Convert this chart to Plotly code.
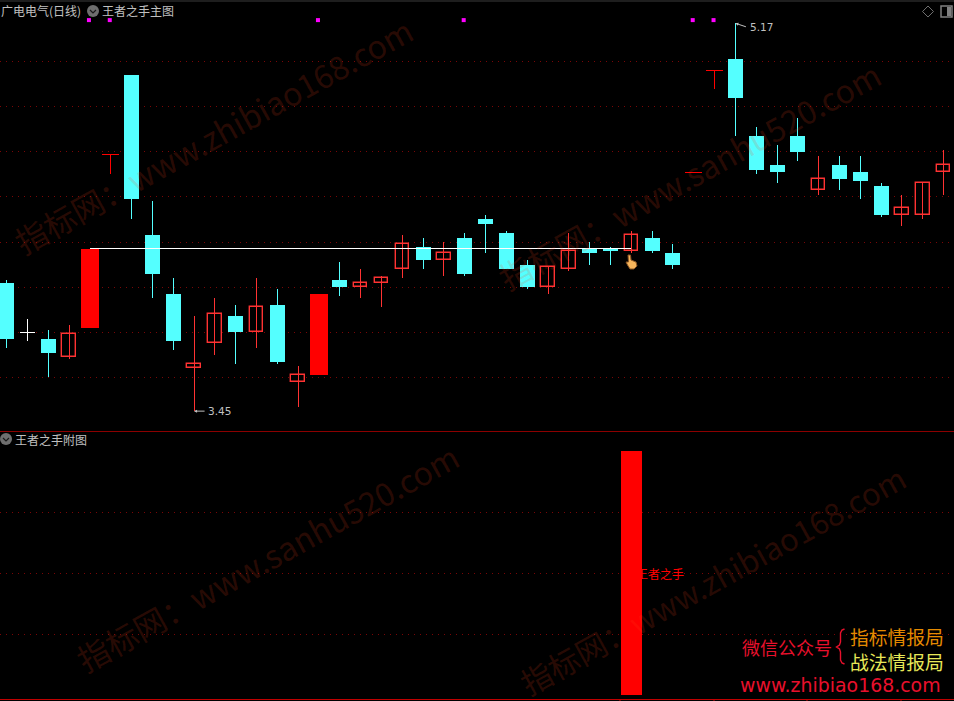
import plotly.graph_objects as go

W, H = 954, 701

opens = [4.02, 3.80, 3.77, 3.69, 3.82, 4.59, 4.94, 4.23, 3.97, 3.64, 3.75, 3.87, 3.80, 3.92, 3.58, 3.61,
         4.03, 4.00, 4.02, 4.08, 4.18, 4.12, 4.22, 4.30, 4.24, 4.10, 4.00, 4.08, 4.17, 4.17, 4.16, 4.22,
         4.15, 4.51, 4.96, 5.01, 4.67, 4.54, 4.67, 4.43, 4.54, 4.51, 4.45, 4.32, 4.32, 4.51]
closes = [3.77, 3.80, 3.71, 3.79, 4.17, 4.59, 4.39, 4.06, 3.76, 3.66, 3.88, 3.80, 3.91, 3.67, 3.61, 3.97,
          4.00, 4.02, 4.04, 4.19, 4.12, 4.15, 4.06, 4.28, 4.08, 4.00, 4.09, 4.16, 4.15, 4.16, 4.23, 4.16,
          4.10, 4.51, 4.96, 4.84, 4.52, 4.51, 4.60, 4.48, 4.48, 4.47, 4.32, 4.35, 4.46, 4.54]
highs = [4.03, 3.86, 3.81, 3.83, 4.17, 4.59, 4.94, 4.38, 4.04, 3.87, 3.95, 3.92, 4.04, 3.99, 3.65, 3.97,
         4.11, 4.08, 4.05, 4.23, 4.22, 4.20, 4.24, 4.32, 4.25, 4.12, 4.09, 4.24, 4.20, 4.18, 4.25, 4.25,
         4.19, 4.51, 4.96, 5.17, 4.71, 4.63, 4.75, 4.58, 4.58, 4.58, 4.46, 4.41, 4.46, 4.61]
lows = [3.73, 3.76, 3.60, 3.68, 3.82, 4.50, 4.30, 3.95, 3.72, 3.45, 3.70, 3.66, 3.73, 3.66, 3.47, 3.61,
        3.96, 3.95, 3.91, 4.04, 4.08, 4.05, 4.05, 4.15, 4.08, 3.99, 3.97, 4.07, 4.10, 4.10, 4.15, 4.15,
        4.08, 4.51, 4.88, 4.67, 4.50, 4.46, 4.56, 4.41, 4.43, 4.39, 4.31, 4.27, 4.30, 4.41]
solid_idx = [4, 15]
white_idx = [1]
signal_idx = [4, 5, 15, 22, 33, 34]
signal_level = 5.184
ref_level = 4.172
ref_span = [4, 30]
low_label = (9, 3.45, "3.45")
high_label = (35, 5.17, "5.17")
main_ticks = [3.6, 3.8, 4.0, 4.2, 4.4, 4.6, 4.8, 5.0]
sub_values = [0] * 46
sub_values[30] = 1
sub_ticks = [0.25, 0.5, 0.75]

CYAN = "#54ffff"
RED = "#ff3232"
SOLID = "#ff0000"
n = len(opens)
xs = list(range(n))
xr = [-6.7 / 20.82, (W - 6.7) / 20.82]
yr1 = [3.3619, 5.2732]
yr2 = [-0.0164, 1.0779]


def wick(idx):
    xv, yv = [], []
    for i in idx:
        xv += [i, i, None]
        yv += [lows[i], highs[i], None]
    return xv, yv


def px(x):
    return x / W


def py(y):
    return 1 - y / H


down = [i for i in xs if closes[i] < opens[i]]
up = [i for i in xs if closes[i] > opens[i] and i not in solid_idx]
flat = [i for i in xs if closes[i] == opens[i] and i not in white_idx]

fig = go.Figure()
for idx, col in ((down, CYAN), (up, RED), (flat, SOLID), (white_idx, "#ffffff")):
    xv, yv = wick(idx)
    fig.add_trace(go.Scatter(x=xv, y=yv, mode="lines", line=dict(color=col, width=1), hoverinfo="skip"))


def bars(idx, fill, line, lw, width):
    fig.add_trace(go.Bar(x=idx, y=[abs(closes[i] - opens[i]) for i in idx],
                         base=[min(opens[i], closes[i]) for i in idx], width=width,
                         marker=dict(color=fill, line=dict(color=line, width=lw)), hoverinfo="skip"))


bars(down, CYAN, CYAN, 0, 0.72)
bars(up, "#000000", RED, 1.4, 0.65)
bars(solid_idx, SOLID, SOLID, 0, 0.82)

# flat (open == close) caps
for idx, col, hw in ((flat, SOLID, 0.41), (white_idx, "#ffffff", 0.34)):
    xv, yv = [], []
    for i in idx:
        xv += [i - hw, i + hw, None]
        yv += [closes[i], closes[i], None]
    fig.add_trace(go.Scatter(x=xv, y=yv, mode="lines", line=dict(color=col, width=1), hoverinfo="skip"))

fig.add_trace(go.Scatter(x=ref_span, y=[ref_level, ref_level], mode="lines",
                         line=dict(color="#ffffff", width=1), hoverinfo="skip"))
fig.add_trace(go.Scatter(x=[i - 0.05 for i in signal_idx], y=[signal_level] * len(signal_idx), mode="markers",
                         marker=dict(symbol="square", size=4, color="#ff00ff", line=dict(width=0)),
                         hoverinfo="skip"))
fig.add_trace(go.Bar(x=xs, y=sub_values, width=1.0, xaxis="x2", yaxis="y2",
                     marker=dict(color=SOLID, line=dict(width=0)), hoverinfo="skip"))

CJK = "Noto Sans CJK SC"
GRAY = "#c0c0c0"
WM = "rgba(255,70,30,0.165)"
ann = []


def label(x, y, text, size, color, anchor="left", family=CJK):
    ann.append(dict(x=px(x), y=py(y), xref="paper", yref="paper", text=text, showarrow=False,
                    xanchor=anchor, yanchor="middle", font=dict(family=family, size=size, color=color)))


label(-1, 11, "广电电气(日线)", 12, GRAY)
label(100, 11, "王者之手主图", 12, GRAY)
label(13, 439, "王者之手附图", 12, GRAY)

for cx, cy, text, size in ((213, 135, "指标网：www.zhibiao168.com", 32), (689, 175, "指标网：www.sanhu520.com", 32),
                           (267, 557, "指标网：www.sanhu520.com", 32), (712, 579, "指标网：www.zhibiao168.com", 31)):
    ann.append(dict(x=px(cx), y=py(cy), xref="paper", yref="paper", text=text, showarrow=False, textangle=-29,
                    xanchor="center", yanchor="middle", font=dict(family=CJK, size=size, color=WM)))

label(740, 647, "微信公众号", 18, "#e8102c")
label(848, 636, "指标情报局", 18.8, "#e58a00")
label(848, 661, "战法情报局", 18.8, "#e8e858")
label(738, 685, "www.zhibiao168.com", 18.9, "#e8102c", family="DejaVu Sans")

# price extreme labels
i, v, t = low_label
ann.append(dict(x=i, y=v, xref="x", yref="y", text="", showarrow=True, ax=12, ay=0, arrowhead=2, arrowsize=0.6,
                arrowwidth=1, arrowcolor=GRAY, axref="pixel", ayref="pixel", standoff=0))
ann.append(dict(x=i, y=v, xref="x", yref="y", text=t, showarrow=False, xanchor="left", yanchor="middle", xshift=12,
                font=dict(family="DejaVu Sans", size=10.5, color=GRAY)))
i, v, t = high_label
ann.append(dict(x=i, y=v, xref="x", yref="y", text="", showarrow=True, ax=12, ay=4, arrowhead=2, arrowsize=0.6,
                arrowwidth=1, arrowcolor=GRAY, axref="pixel", ayref="pixel", standoff=0))
ann.append(dict(x=i, y=v, xref="x", yref="y", text=t, showarrow=False, xanchor="left", yanchor="middle", xshift=13,
                yshift=-4, font=dict(family="DejaVu Sans", size=10.5, color=GRAY)))
# sub pane label
ann.append(dict(x=30, y=0.5, xref="x2", yref="y2", text="王者之手", showarrow=False, xanchor="left", yanchor="middle",
                xshift=3, font=dict(family=CJK, size=12, color="#ff0000")))


def pth(points, close=True):
    s = "M" + " L".join(f"{px(a):.5f},{py(b):.5f}" for a, b in points)
    return s + (" Z" if close else "")


shapes = []


def paper(**k):
    k.update(xref="paper", yref="paper")
    shapes.append(k)


# frame lines
paper(type="line", x0=0, x1=1, y0=py(1), y1=py(1), line=dict(color="#3c3c3c", width=1))
paper(type="line", x0=0, x1=1, y0=py(431.5), y1=py(431.5), line=dict(color="#8c0000", width=1))
paper(type="line", x0=0, x1=1, y0=py(699.5), y1=py(699.5), line=dict(color="#c00000", width=1))
for tx in (620, 714, 807, 901):
    paper(type="line", x0=px(tx), x1=px(tx), y0=py(699), y1=py(701), line=dict(color="#c00000", width=1))
# collapse icons
for cx, cy in ((93, 11), (6, 439)):
    paper(type="circle", x0=px(cx - 6), x1=px(cx + 6), y0=py(cy + 6), y1=py(cy - 6),
          fillcolor="#6e6e6e", line=dict(width=0))
    paper(type="path", path=pth([(cx - 3, cy - 1), (cx, cy + 2), (cx + 3, cy - 1)], close=False),
          line=dict(color="#1a1a1a", width=1.2))
# top-right icons
paper(type="path", path=pth([(928, 6), (933.5, 11.5), (928, 17), (922.5, 11.5)]), line=dict(color="#707070", width=1))
paper(type="rect", x0=px(941), x1=px(952), y0=py(17), y1=py(6), line=dict(color="#808080", width=1.5))
paper(type="rect", x0=px(947), x1=px(951), y0=py(16), y1=py(7), fillcolor="#808080", line=dict(width=0))
# brace
paper(type="path", path=pth([(844.5, 629), (842, 630), (840.5, 633), (840.5, 642), (839.5, 645), (836.5, 647),
                             (839.5, 649), (840.5, 652), (840.5, 660), (842, 663), (844.5, 664)], close=False),
      line=dict(color="#e8102c", width=1.4))
# hand cursor
paper(type="path", path=pth([(628, 255), (630.5, 255), (631, 260), (636, 262), (637, 266), (634, 269), (630, 269),
                             (627.5, 265), (626, 262), (628.5, 262)]),
      fillcolor="#f7b55c", line=dict(color="#8a5524", width=1), layer="above")

fig.update_layout(
    width=W, height=H, margin=dict(l=0, r=0, t=0, b=0), autosize=False,
    paper_bgcolor="#000000", plot_bgcolor="#000000", showlegend=False, barmode="overlay", bargap=0,
    annotations=ann, shapes=shapes, hovermode=False,
    xaxis=dict(range=xr, domain=[0, 1], anchor="y", showgrid=False, zeroline=False, showticklabels=False, ticks=""),
    xaxis2=dict(range=xr, domain=[0, 1], anchor="y2", showgrid=False, zeroline=False, showticklabels=False, ticks=""),
    yaxis=dict(range=yr1, domain=[py(431), 1], tickvals=main_ticks, showticklabels=False, ticks="", zeroline=False,
               showgrid=True, gridcolor="#7a0606", griddash="1px,5px", gridwidth=1),
    yaxis2=dict(range=yr2, domain=[py(699), py(432)], tickvals=sub_ticks, showticklabels=False, ticks="", zeroline=False,
                showgrid=True, gridcolor="#7a0606", griddash="1px,5px", gridwidth=1),
)
page_css = ("document.documentElement.style.background='#000';"
            "document.body.style.margin='0';document.body.style.background='#000';"
            "document.body.style.overflow='hidden';"
            "var s=document.createElement('style');"
            "s.textContent='.scatterlayer .js-line{shape-rendering:crispEdges}';"
            "document.head.appendChild(s);")
fig.write_html("out.html", config=dict(displayModeBar=False), post_script=page_css)
